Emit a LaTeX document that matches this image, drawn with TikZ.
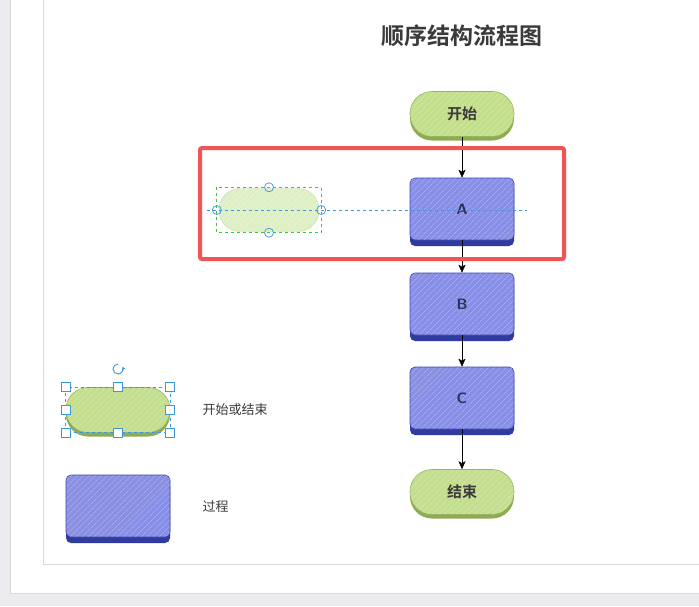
\documentclass[tikz,border=0pt]{standalone}
\usepackage{fontspec}
\usepackage{xcolor}
\usetikzlibrary{shapes, arrows, arrows.meta, positioning, calc, patterns.meta, shadows}
\newfontfamily\cjk{Noto Sans CJK SC}[BoldFont={Noto Sans CJK SC Bold}]

\definecolor{pagegray}{HTML}{EBEBF0}
\definecolor{linegray}{HTML}{D9D9DC}
\definecolor{termfill}{HTML}{C3DE8C}
\definecolor{termline}{HTML}{96B25C}
\definecolor{termshadow}{HTML}{8EAA52}
\definecolor{ghostfill}{HTML}{DEEFC6}
\definecolor{procfill}{HTML}{8A8FE6}
\definecolor{procline}{HTML}{3A44A6}
\definecolor{procshadow}{HTML}{2F3B9E}
\definecolor{markred}{HTML}{F25456}
\definecolor{handleblue}{HTML}{3A98DC}
\definecolor{selgreen}{HTML}{3CC83C}
\definecolor{textgray}{HTML}{3A3A3A}

\begin{document}
\begin{tikzpicture}[x=1pt,y=-1pt,>={Stealth[length=8pt,width=7pt,inset=2pt]},
        hatch/.style={postaction={pattern={Lines[angle=45,distance=4pt,line width=0.4pt]},
            pattern color=white, fill opacity=0.4}},
        term/.style={rectangle, rounded corners=22pt, minimum width=104pt, minimum height=45pt,
            fill=termfill, draw=termline, line width=0.6pt, hatch,
            general shadow={fill=termshadow, shadow yshift=-4pt},
            font=\cjk\bfseries\fontsize{15}{17}\selectfont, text=textgray},
        proc/.style={rectangle, rounded corners=5pt, minimum width=104pt, minimum height=62pt,
            fill=procfill, draw=procline, line width=0.6pt, hatch,
            general shadow={fill=procshadow, shadow yshift=-6pt},
            font=\sffamily\bfseries\fontsize{15}{17}\selectfont, text=textgray!85!blue},
        legend/.style={anchor=west, font=\cjk\fontsize{13}{15}\selectfont, text=textgray},
        handle/.style={rectangle, draw=handleblue, fill=white, line width=0.7pt,
            minimum size=9pt, inner sep=0pt},
        ring/.style={circle, draw=handleblue, line width=0.7pt, minimum size=9pt, inner sep=0pt}]

            \useasboundingbox (0,0) rectangle (699,606);
            \fill[pagegray] (0,0) rectangle (699,606);
            \fill[white] (10,0) rectangle (699,593);
            \draw[linegray] (10,0) -- (10,593) -- (699,593);
            \draw[linegray] (43,0) -- (43,564) -- (699,564);

            \node[font=\cjk\bfseries\fontsize{23}{26}\selectfont, text=textgray] (title) at (462,36) {顺序结构流程图};

            \node[term] (start) at (462,114) {开始};
            \node[proc] (A) at (462,209) {A};
            \node[proc] (B) at (462,304) {B};
            \node[proc] (C) at (462,398) {C};
            \node[term] (end) at (462,492) {结束};

            \draw[->] (start) -- (A);
            \draw[->] (A) -- (B);
            \draw[->] (B) -- (C);
            \draw[->] (C) -- (end);

            \draw[markred, line width=4pt, rounded corners=2pt] (200,148) rectangle (564,259);

            \node[rectangle, rounded corners=21pt, minimum width=100pt, minimum height=43pt,
                fill=ghostfill, draw=termline!50, hatch] (ghost) at (269,210) {};
            \coordinate (guideL) at (207,210);
            \coordinate (guideR) at (527,210);
            \draw[handleblue, dashed, line width=0.7pt] (guideL) -- (guideR);
            \draw[selgreen, dashed, line width=0.8pt] ($(ghost.north west)+(-2,-1)$) rectangle ($(ghost.south east)+(2,1)$);
            \foreach \a/\dx/\dy in {north/0/-1, south/0/1, west/-2/0, east/2/0}
                \node[ring] at ($(ghost.\a)+(\dx,\dy)$) {};

            \node[term] (legterm) at (118,410) {};
            \node[legend] (legtermtext) at (199,410) {开始或结束};
            \draw[handleblue, dashed, line width=0.7pt] (legterm.north west) rectangle (legterm.south east);
            \foreach \a in {north west, north, north east, west, east, south west, south, south east}
                \node[handle] at (legterm.\a) {};
            \coordinate (rot) at (118,369);
            \draw[handleblue, line width=0.9pt, -{Stealth[length=3pt,width=3.5pt]}]
                ($(rot)+(-90:5)$) arc[start angle=-90, end angle=-385, radius=5];

            \node[proc] (legproc) at (118,506) {};
            \node[legend] (legproctext) at (199,507) {过程};
        \end{tikzpicture}
\end{document}
